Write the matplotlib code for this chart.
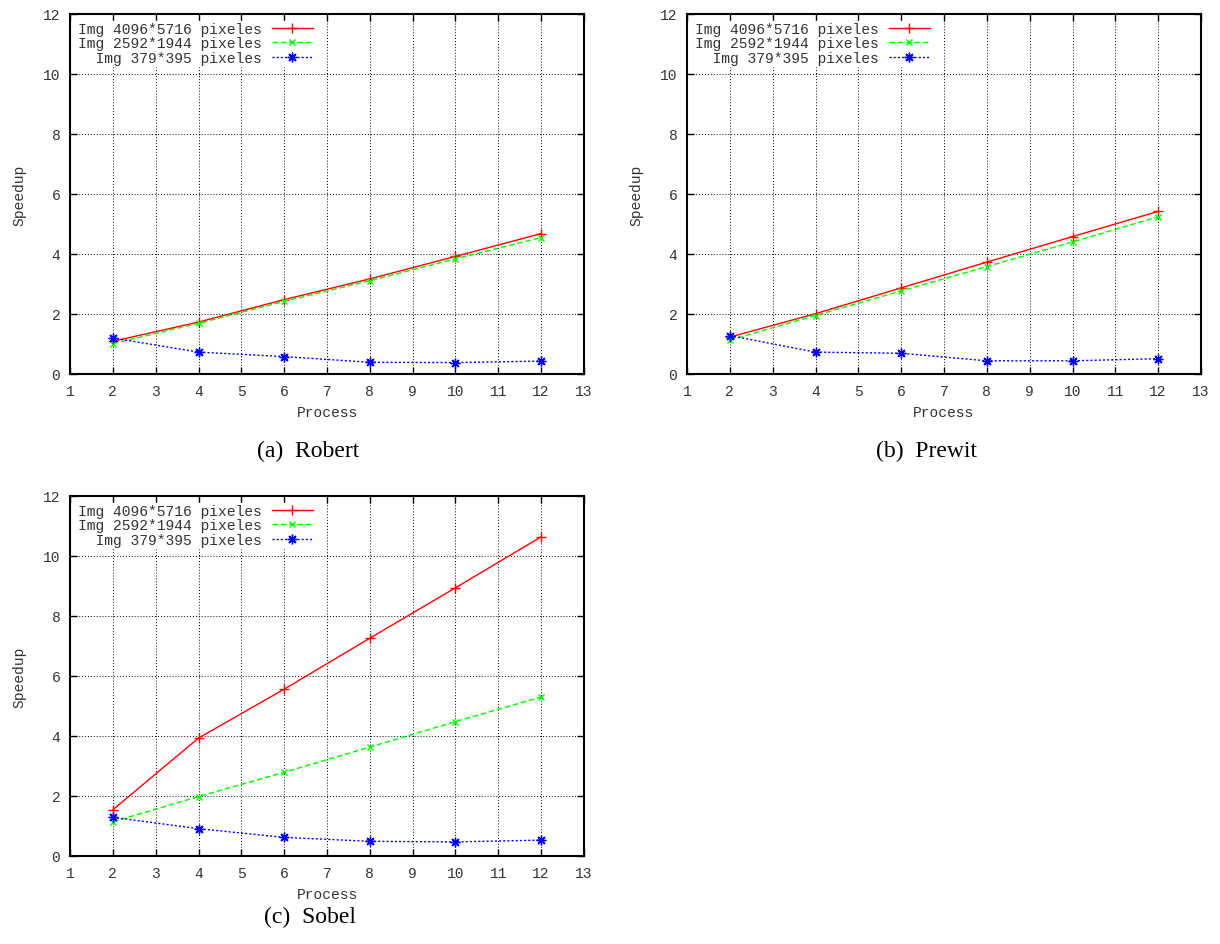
import matplotlib
matplotlib.use("Agg")
import matplotlib.pyplot as plt

# process counts and measured speedups
procs = [2, 4, 6, 8, 10, 12]
labels = ["Img 4096*5716 pixeles", "Img 2592*1944 pixeles", "  Img 379*395 pixeles"]
captions = ["(a)  Robert", "(b)  Prewit", "(c)  Sobel"]

robert_big = [1.09, 1.73, 2.48, 3.17, 3.92, 4.68]
robert_mid = [1.01, 1.69, 2.42, 3.11, 3.84, 4.55]
robert_small = [1.20, 0.73, 0.58, 0.39, 0.38, 0.43]

prewit_big = [1.23, 2.01, 2.87, 3.73, 4.58, 5.42]
prewit_mid = [1.13, 1.95, 2.77, 3.58, 4.40, 5.24]
prewit_small = [1.28, 0.73, 0.69, 0.44, 0.44, 0.51]

sobel_big = [1.54, 3.93, 5.56, 7.26, 8.94, 10.64]
sobel_mid = [1.14, 1.98, 2.79, 3.63, 4.48, 5.30]
sobel_small = [1.29, 0.91, 0.62, 0.49, 0.47, 0.53]

xticks = list(range(1, 14))
yticks = [0, 2, 4, 6, 8, 10, 12]

mono = "Liberation Mono"
fs = 10.5

fig = plt.figure(figsize=(12.2, 9.45), dpi=100)

# axes boxes in pixels (left, top) -> figure fractions
W, H = 1220.0, 945.0
aw, ah = 514.0, 360.0
boxes = [(70, 15), (687, 15), (70, 497)]
data = [(robert_big, robert_mid, robert_small),
        (prewit_big, prewit_mid, prewit_small),
        (sobel_big, sobel_mid, sobel_small)]
cap_pos = [(308, 451), (926, 451), (310, 917)]

asterisk = (8, 2, 0)

for (l, t), (big, mid, small), cap, (cx, cy) in zip(boxes, data, captions, cap_pos):
    ax = fig.add_axes([l / W, 1 - (t + ah) / H, aw / W, ah / H])
    ax.plot(procs, big, color="#ff0000", ls="-", lw=1.0, marker="+", ms=7, mew=1.0, label=labels[0])
    ax.plot(procs, mid, color="#00ff00", ls=(0, (4, 2)), lw=1.0, marker="x", ms=5, mew=1.0, label=labels[1])
    ax.plot(procs, small, color="#0000ff", ls=(0, (1.5, 1.5)), lw=1.0, marker=asterisk, ms=7, mew=1.0, label=labels[2])
    ax.set_xlim(1, 13)
    ax.set_ylim(0, 12)
    ax.set_xticks(xticks)
    ax.set_yticks(yticks)
    ax.grid(True, color="black", ls=(0, (1, 2)), lw=0.7)
    ax.set_axisbelow(True)
    for s in ax.spines.values():
        s.set_linewidth(1.5)
    ax.tick_params(direction="in", top=True, right=True, length=5, width=1.0,
                   labelsize=fs, labelcolor="#333333", pad=7)
    for lab in ax.get_xticklabels() + ax.get_yticklabels():
        lab.set_family(mono)
    ax.set_xlabel("Process", family=mono, fontsize=fs, color="#333333", labelpad=5)
    ax.set_ylabel("Speedup", family=mono, fontsize=fs, color="#333333", labelpad=12)
    leg = ax.legend(loc="upper left", bbox_to_anchor=(0.0, 1.0), borderaxespad=0.45,
                    markerfirst=False, frameon=True, framealpha=1.0, edgecolor="white",
                    fancybox=False, prop={"family": mono, "size": fs},
                    handlelength=2.8, handletextpad=0.7, labelspacing=0.03,
                    borderpad=0.1)
    for txt in leg.get_texts():
        txt.set_color("#333333")
    fig.text(cx / W, 1 - cy / H, cap, ha="center", va="center",
             family="Liberation Serif", fontsize=17)

fig.savefig("out.png", dpi=100)
